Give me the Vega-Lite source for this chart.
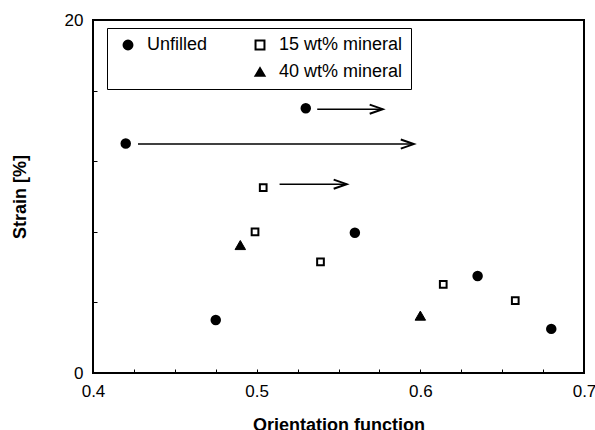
{
  "$schema": "https://vega.github.io/schema/vega-lite/v6.json",
  "width": 491,
  "height": 353,
  "autosize": {"type": "none"},
  "padding": {"left": 93, "top": 20, "right": 11, "bottom": 57},
  "background": "white",
  "config": {
    "view": {"stroke": "black", "strokeWidth": 2},
    "font": "Liberation Sans",
    "axis": {
      "domain": false,
      "grid": false,
      "tickColor": "black",
      "labelColor": "black",
      "titleColor": "black",
      "labelFontSize": 17,
      "titleFontSize": 18,
      "titleFontWeight": "bold"
    }
  },
  "datasets": {
    "pts": [
      {"series": "Unfilled", "f": 0.42, "strain": 13},
      {"series": "Unfilled", "f": 0.53, "strain": 15},
      {"series": "Unfilled", "f": 0.475, "strain": 3},
      {"series": "Unfilled", "f": 0.56, "strain": 7.95},
      {"series": "Unfilled", "f": 0.635, "strain": 5.5},
      {"series": "Unfilled", "f": 0.68, "strain": 2.5},
      {"series": "15 wt% mineral", "f": 0.504, "strain": 10.5},
      {"series": "15 wt% mineral", "f": 0.499, "strain": 8},
      {"series": "15 wt% mineral", "f": 0.539, "strain": 6.3},
      {"series": "15 wt% mineral", "f": 0.614, "strain": 5.02},
      {"series": "15 wt% mineral", "f": 0.658, "strain": 4.1},
      {"series": "40 wt% mineral", "f": 0.49, "strain": 7.25},
      {"series": "40 wt% mineral", "f": 0.6, "strain": 3.25}
    ],
    "arrows": [
      {"x1": 0.537, "x2": 0.577, "y": 14.95},
      {"x1": 0.4275, "x2": 0.596, "y": 12.97},
      {"x1": 0.514, "x2": 0.555, "y": 10.7}
    ]
  },
  "layer": [
    {
      "data": {"name": "pts"},
      "transform": [{"filter": "datum.series == 'Unfilled'"}],
      "mark": {"type": "point", "strokeWidth": 2, "opacity": 1, "size": 72},
      "encoding": {
        "x": {
          "field": "f", "type": "quantitative",
          "scale": {"domain": [0.4, 0.7], "nice": false, "zero": false},
          "axis": {
            "title": "Orientation function",
            "values": [0.4, 0.425, 0.45, 0.475, 0.5, 0.525, 0.55, 0.575, 0.6, 0.625, 0.65, 0.675, 0.7],
            "labelExpr": "abs(datum.value*10 - round(datum.value*10)) < 0.001 ? format(datum.value, '.1f') : ''",
            "tickSize": -4,
            "labelPadding": 14,
            "labelOverlap": false,
            "labelFlush": false,
            "titlePadding": 17
          }
        },
        "y": {
          "field": "strain", "type": "quantitative",
          "scale": {"domain": [0, 20], "nice": false},
          "axis": {
            "title": "Strain [%]",
            "values": [0,1,2,3,4,5,6,7,8,9,10,11,12,13,14,15,16,17,18,19,20],
            "labelExpr": "datum.value % 5 == 0 ? datum.label : ''",
            "tickSize": -4,
            "labelPadding": 14,
            "labelOverlap": false,
            "labelFlush": false,
            "titlePadding": 35
          }
        },
        "shape": {
          "field": "series", "type": "nominal",
          "scale": {"domain": ["Unfilled", " ", "15 wt% mineral", "40 wt% mineral"], "range": ["circle", "circle", "square", "triangle-up"]},
          "legend": {
            "orient": "none",
            "legendX": 14,
            "legendY": 8,
            "direction": "vertical",
            "columns": 2,
            "title": null,
            "padding": 8,
            "strokeColor": "black",
            "fillColor": "white",
            "labelFontSize": 18,
            "labelColor": "black",
            "labelOffset": 10,
            "labelLimit": 300,
            "symbolSize": 80,
            "symbolStrokeWidth": 2,
            "symbolOffset": 4,
            "rowPadding": 9,
            "columnPadding": 39
          }
        },
        "fill": {
          "field": "series", "type": "nominal",
          "scale": {"domain": ["Unfilled", " ", "15 wt% mineral", "40 wt% mineral"], "range": ["black", "transparent", "white", "black"]}
        },
        "stroke": {
          "field": "series", "type": "nominal",
          "scale": {"domain": ["Unfilled", " ", "15 wt% mineral", "40 wt% mineral"], "range": ["black", "transparent", "black", "black"]}
        }
      }
    },
    {
      "data": {"name": "pts"},
      "transform": [{"filter": "datum.series == '15 wt% mineral'"}],
      "mark": {"type": "point", "strokeWidth": 2, "opacity": 1, "size": 45},
      "encoding": {
        "x": {"field": "f", "type": "quantitative", "scale": {"domain": [0.4, 0.7], "nice": false, "zero": false}},
        "y": {"field": "strain", "type": "quantitative", "scale": {"domain": [0, 20], "nice": false}},
        "shape": {"field": "series", "type": "nominal"},
        "fill": {"field": "series", "type": "nominal"},
        "stroke": {"field": "series", "type": "nominal"}
      }
    },
    {
      "data": {"name": "pts"},
      "transform": [{"filter": "datum.series == '40 wt% mineral'"}],
      "mark": {"type": "point", "strokeWidth": 1, "opacity": 1, "size": 110},
      "encoding": {
        "x": {"field": "f", "type": "quantitative", "scale": {"domain": [0.4, 0.7], "nice": false, "zero": false}},
        "y": {"field": "strain", "type": "quantitative", "scale": {"domain": [0, 20], "nice": false}},
        "shape": {"field": "series", "type": "nominal"},
        "fill": {"field": "series", "type": "nominal"},
        "stroke": {"field": "series", "type": "nominal"}
      }
    },
    {
      "data": {"name": "arrows"},
      "mark": {"type": "rule", "strokeWidth": 1.5, "color": "black"},
      "encoding": {
        "x": {"field": "x1", "type": "quantitative", "scale": {"domain": [0.4, 0.7], "nice": false, "zero": false}},
        "x2": {"field": "x2"},
        "y": {"field": "y", "type": "quantitative", "scale": {"domain": [0, 20], "nice": false}}
      }
    },
    {
      "data": {"name": "arrows"},
      "mark": {"type": "point", "shape": "M-1,-0.35L0,0L-1,0.35", "filled": false, "size": 676, "strokeWidth": 2, "color": "black", "opacity": 1},
      "encoding": {
        "x": {"field": "x2", "type": "quantitative", "scale": {"domain": [0.4, 0.7], "nice": false, "zero": false}},
        "y": {"field": "y", "type": "quantitative", "scale": {"domain": [0, 20], "nice": false}}
      }
    }
  ]
}
